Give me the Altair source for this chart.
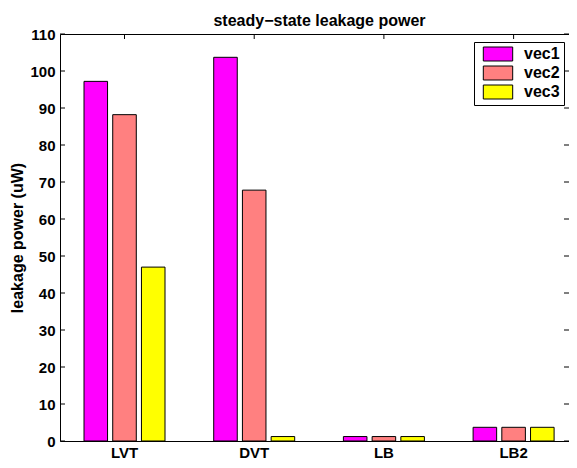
import altair as alt
import pandas as pd

categories = ["LVT", "DVT", "LB", "LB2"]
series = ["vec1", "vec2", "vec3"]
vec1 = [97.2, 103.7, 1.2, 3.7]
vec2 = [88.2, 67.8, 1.2, 3.7]
vec3 = [47.0, 1.2, 1.2, 3.7]
y_ticks = [0, 10, 20, 30, 40, 50, 60, 70, 80, 90, 100, 110]
colors = ["#FF00FF", "#FF8080", "#FFFF00"]

rows = []
for s, vals in zip(series, [vec1, vec2, vec3]):
    for c, v in zip(categories, vals):
        rows.append({"cat": c, "series": s, "value": v})
df = pd.DataFrame(rows)

W, H = 509, 407
FONT = "Liberation Sans"
ytitle = "leakage power (uW)"

xscale = alt.Scale(paddingInner=0.3755, paddingOuter=0.15, align=0.617, round=False)
yscale = alt.Scale(domain=[0, 110], nice=False)
xaxis = alt.Axis(title=None, labelAngle=0, labelPadding=4)
yaxis = alt.Axis(title=ytitle, values=y_ticks, labelPadding=5, titlePadding=4)

bars = alt.Chart(df).mark_bar(stroke="black", strokeWidth=1).encode(
    x=alt.X("cat:N", sort=categories, scale=xscale, axis=xaxis),
    xOffset=alt.XOffset("series:N", sort=series,
                        scale=alt.Scale(paddingInner=0.18, paddingOuter=0, round=False)),
    y=alt.Y("value:Q", scale=yscale, axis=yaxis),
    color=alt.Color("series:N", sort=series,
                    scale=alt.Scale(domain=series, range=colors),
                    legend=alt.Legend(title=None, orient="none", legendX=414, legendY=8,
                                      strokeColor="black", fillColor="white", padding=4,
                                      symbolType="M-2.1,-1H2.1V1H-2.1Z", symbolSize=196,
                                      symbolStrokeColor="black", symbolStrokeWidth=1,
                                      symbolOpacity=1, symbolOffset=12,
                                      labelFont=FONT, labelFontSize=16, labelFontWeight="bold",
                                      labelColor="black", labelOffset=18, rowPadding=1)),
)

ydf = pd.DataFrame({"tick": y_ticks})
left_ticks = alt.Chart(ydf).mark_rule(color="black", strokeWidth=1).encode(
    y=alt.Y("tick:Q", scale=yscale, axis=yaxis),
    x=alt.value(0), x2=alt.value(5))
right_ticks = alt.Chart(ydf).mark_rule(color="black", strokeWidth=1).encode(
    y=alt.Y("tick:Q", scale=yscale, axis=yaxis),
    x=alt.value(W - 5), x2=alt.value(W))

cdf = pd.DataFrame({"cat": categories})
top_ticks = alt.Chart(cdf).mark_rule(color="black", strokeWidth=1).encode(
    x=alt.X("cat:N", sort=categories, scale=xscale, bandPosition=0.5, axis=xaxis),
    y=alt.value(0), y2=alt.value(5))

chart = alt.layer(bars, left_ticks, right_ticks, top_ticks).properties(
    width=W, height=H,
    title=alt.TitleParams("steady\u2212state leakage power", font=FONT, fontSize=16,
                          fontWeight="bold", color="black", offset=-2, dx=5, anchor="middle"),
    padding={"left": 52, "top": 26, "right": 0, "bottom": 19},
    autosize="none",
).configure_view(stroke="black", strokeWidth=1).configure_axis(
    labelFont=FONT, labelFontSize=15, labelFontWeight="bold", labelColor="black",
    titleFont=FONT, titleFontSize=16, titleFontWeight="bold", titleColor="black",
    ticks=False, domain=False, grid=False,
)

chart.save("out.html", embed_options={"renderer": "svg", "actions": False})
